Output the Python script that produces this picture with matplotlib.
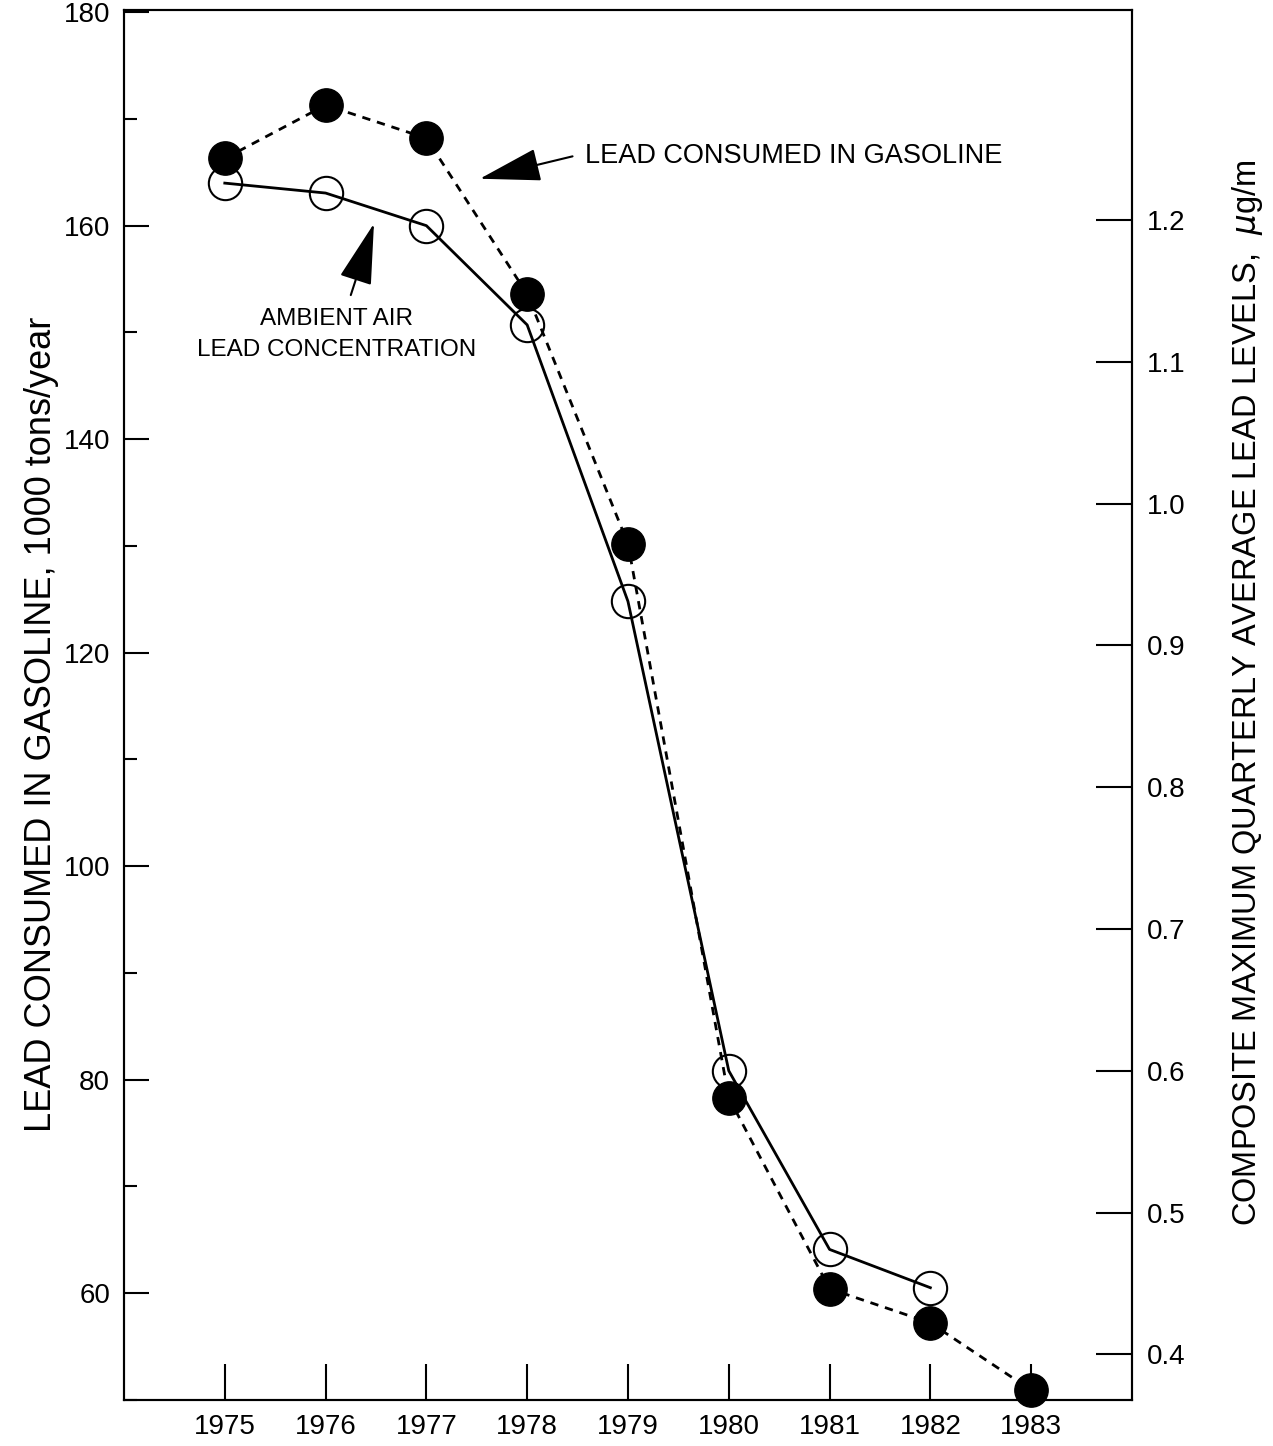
import numpy as np
import matplotlib
matplotlib.use("Agg")
import matplotlib.pyplot as plt
from matplotlib.ticker import MultipleLocator

plt.rcParams['font.family'] = ['Liberation Sans', 'DejaVu Sans']

# 数据
years = [1975, 1976, 1977, 1978, 1979, 1980, 1981, 1982, 1983]
gasoline_lead = [166.3, 171.3, 168.2, 153.6, 130.2, 78.3, 60.4, 57.2, 50.9]
air_years = [1975, 1976, 1977, 1978, 1979, 1980, 1981, 1982]
air_lead = [1.226, 1.219, 1.196, 1.126, 0.931, 0.600, 0.474, 0.447]

left_ticks = [60, 80, 100, 120, 140, 160, 180]
right_ticks = [0.4, 0.5, 0.6, 0.7, 0.8, 0.9, 1.0, 1.1, 1.2]

fig = plt.figure(figsize=(12.73, 14.46), dpi=100)
ax = fig.add_axes([0.0974, 0.032, 0.7918, 0.961])
ax2 = ax.twinx()

# 汽油耗铅 (虚线, 实心点)
ax.plot(years, gasoline_lead, color='black', lw=2, ls=(0, (3, 2.5)),
        marker='o', ms=24, mfc='black', mec='black', zorder=3, clip_on=False)
# 空气铅浓度 (实线, 空心点)
ax2.plot(air_years, air_lead, color='black', lw=2, ls='-',
         marker='o', ms=24, mfc='none', mec='black', mew=1.5, zorder=3)

ax.set_xlim(1974, 1984)
ax.set_ylim(50, 180.2)
ax2.set_ylim(0.368, 1.348)

ax.set_xticks(years)
ax.set_xticklabels([str(y) for y in years], fontsize=20)
ax.set_yticks(left_ticks)
ax.set_yticklabels([str(v) for v in left_ticks], fontsize=20)
ax.yaxis.set_minor_locator(MultipleLocator(10))
ax2.set_yticks(right_ticks)
ax2.set_yticklabels(["%.1f" % v for v in right_ticks], fontsize=20)

ax.tick_params(axis='x', direction='in', length=26, width=1.5, pad=10)
ax.tick_params(axis='y', which='major', direction='in', length=18, width=1.5, pad=10)
ax.tick_params(axis='y', which='minor', direction='in', length=9, width=1.5)
ax2.tick_params(axis='y', direction='in', length=26, width=1.5, pad=11)

for a in (ax, ax2):
    for s in a.spines.values():
        s.set_linewidth(1.5)

ax.set_ylabel("LEAD CONSUMED IN GASOLINE, 1000 tons/year", fontsize=26)
ax.yaxis.set_label_coords(-0.064, 0.486)
ax2.set_ylabel("COMPOSITE MAXIMUM QUARTERLY AVERAGE LEAD LEVELS,  $\\mu$g/m",
               fontsize=23.5)
ax2.yaxis.set_label_coords(1.097, 0.509)

arrow = dict(arrowstyle='-|>,head_length=1.3,head_width=0.35', color='black',
             lw=1.5, mutation_scale=30, shrinkA=0, shrinkB=0)
ax.text(1978.57, 166.5, "LEAD CONSUMED IN GASOLINE", fontsize=19.5,
        va='center', ha='left')
ax.annotate("", xy=(1977.53, 164.4), xytext=(1978.45, 166.5), arrowprops=arrow)
ax.annotate("", xy=(1976.48, 160.2), xytext=(1976.25, 153.5), arrowprops=arrow)
ax.text(1976.11, 149.8, "AMBIENT AIR\nLEAD CONCENTRATION", fontsize=17.5,
        ha='center', va='center', linespacing=1.5)

fig.savefig("out.png", dpi=100)
